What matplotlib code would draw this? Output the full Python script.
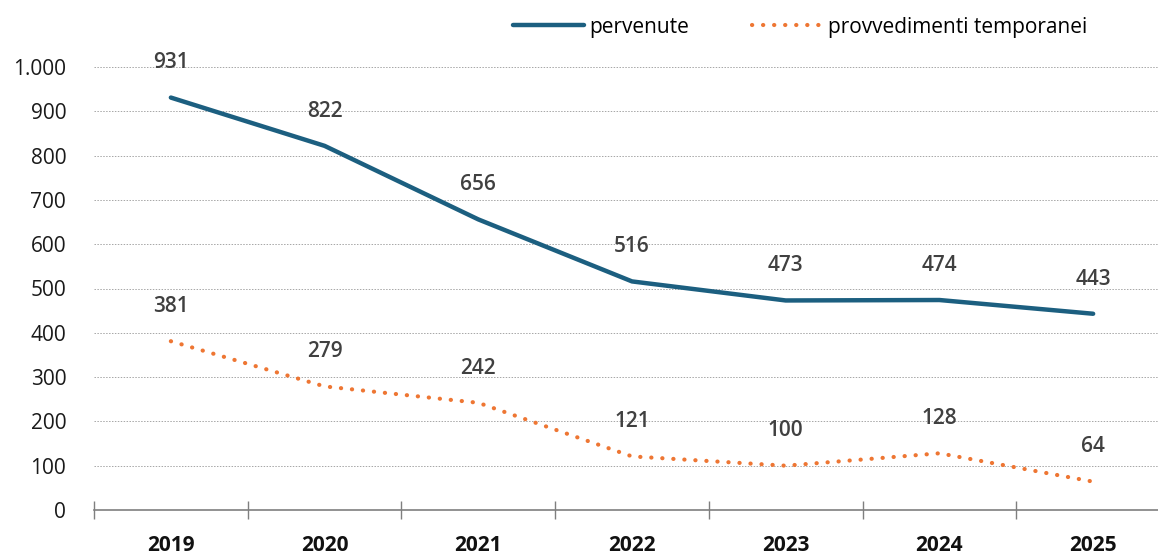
import matplotlib
matplotlib.use("Agg")
import matplotlib.pyplot as plt
from matplotlib.ticker import FixedLocator, FuncFormatter

years = ["2019", "2020", "2021", "2022", "2023", "2024", "2025"]
pervenute = [931, 822, 656, 516, 473, 474, 443]
provvedimenti = [381, 279, 242, 121, 100, 128, 64]
yticks = [0, 100, 200, 300, 400, 500, 600, 700, 800, 900, 1000]

plt.rcParams['font.family'] = ['Open Sans', 'DejaVu Sans']

W, H = 1158, 559
fig = plt.figure(figsize=(W/100, H/100), dpi=100)
left, right, bottom, top = 94, 1170, 510, 67
ax = fig.add_axes([left/W, (H-bottom)/H, (right-left)/W, (bottom-top)/H])

x = list(range(len(years)))
blue = "#1c5f80"
orange = "#ee7633"
ax.plot(x, pervenute, color=blue, lw=3.2, solid_capstyle='round', solid_joinstyle='round',
        label="pervenute", clip_on=False, zorder=3)
ax.plot(x, provvedimenti, color=orange, lw=3.0, linestyle=(0, (0.05, 2.6)),
        dash_capstyle='round', label="provvedimenti temporanei", clip_on=False, zorder=3)

for series in (pervenute, provvedimenti):
    for xi, v in zip(x, series):
        ax.annotate(f"{v}", (xi, v), xytext=(0, 25), textcoords='offset points',
                    ha='center', va='center', fontsize=15, fontweight='semibold', color='#404040',
                    annotation_clip=False)

ax.set_xlim(-0.5, len(years) - 0.5)
ax.set_ylim(0, 1000)

ax.yaxis.set_major_locator(FixedLocator(yticks))
ax.yaxis.set_major_formatter(FuncFormatter(lambda v, p: f"{int(v):,}".replace(",", ".")))
ax.tick_params(axis='y', length=0, pad=20, labelsize=15, labelcolor='#1a1a1a')
ax.grid(axis='y', color='#a6a6a6', linestyle=(0, (1.5, 1.5)), linewidth=0.7)

ax.set_xticks([i - 0.5 for i in range(len(years) + 1)])
ax.set_xticklabels([])
ax.set_xticks(x, minor=True)
ax.set_xticklabels(years, minor=True, fontsize=15, fontweight='bold', color='#111111')
ax.tick_params(axis='x', which='major', direction='inout', length=13, width=1, color='#7f7f7f')
ax.tick_params(axis='x', which='minor', length=0, pad=18)

for s in ['top', 'right', 'left']:
    ax.spines[s].set_visible(False)
ax.spines['bottom'].set_color('#7f7f7f')
ax.spines['bottom'].set_linewidth(1.2)
ax.set_axisbelow(True)

leg = fig.legend(loc='center', bbox_to_anchor=(800/W, 1 - 27/H), ncol=2, frameon=False,
                 fontsize=15, handlelength=3.4, handletextpad=0.25, columnspacing=3.0)

fig.savefig("out.png", dpi=100)
